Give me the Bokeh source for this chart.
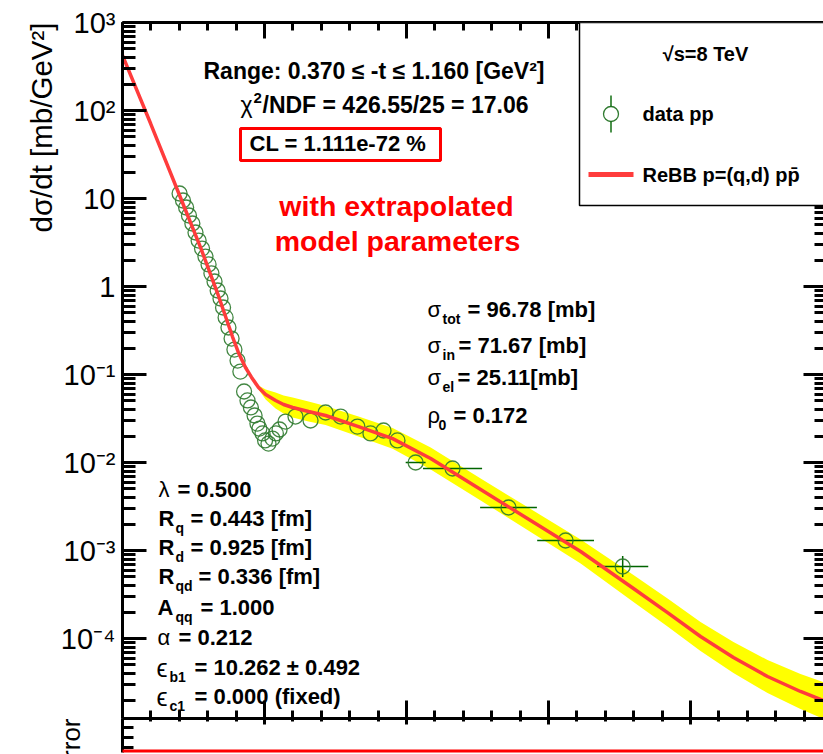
import math
from bokeh.plotting import figure
from bokeh.layouts import column
from bokeh.models import (LinearAxis, LogAxis, FixedTicker, SingleIntervalTicker, Title,
                          Range1d, Label, BoxAnnotation, ColumnDataSource, CustomJSTickFormatter)
from bokeh.embed import file_html
from bokeh.resources import INLINE

# ---------------- data ----------------
t_data = [0.201, 0.213, 0.224, 0.234, 0.246, 0.257, 0.268, 0.280, 0.292, 0.303,
          0.313, 0.324, 0.335, 0.345, 0.354, 0.363, 0.373, 0.384, 0.394, 0.405,
          0.415, 0.428, 0.440, 0.452, 0.465, 0.475, 0.482, 0.493, 0.502, 0.514,
          0.528, 0.540, 0.553, 0.574, 0.609, 0.662, 0.715, 0.768, 0.827, 0.873,
          0.919, 0.968, 1.032, 1.162, 1.359, 1.560, 1.761]
dsdt_data = [11.4, 9.49, 7.90, 6.41, 5.20, 4.11, 3.33, 2.70, 2.19, 1.78,
             1.41, 1.14, 0.901, 0.731, 0.577, 0.445, 0.342, 0.256, 0.192, 0.144,
             0.108, 0.0641, 0.0507, 0.0422, 0.0342, 0.0277, 0.0243, 0.0214, 0.0178, 0.0164,
             0.0187, 0.0214, 0.0237, 0.0292, 0.0333, 0.0300, 0.0370, 0.0333, 0.0256, 0.0214,
             0.0231, 0.0178, 0.0100, 0.00855, 0.00308, 0.00130, 0.000658]
t_halfwidth = [0, 0, 0, 0, 0, 0, 0, 0, 0, 0,
               0, 0, 0, 0, 0, 0, 0, 0, 0, 0,
               0, 0, 0, 0, 0, 0, 0, 0, 0, 0,
               0, 0, 0, 0, 0, 0, 0, 0, 0, 0,
               0, 0, 0.035, 0.104, 0.100, 0.100, 0.090]
dsdt_err_lo = [0, 0, 0, 0, 0, 0, 0, 0, 0, 0,
               0, 0, 0, 0, 0, 0, 0, 0, 0, 0,
               0, 0, 0, 0, 0, 0, 0, 0, 0, 0,
               0, 0, 0, 0, 0, 0, 0, 0, 0, 0,
               0, 0, 0, 0, 0, 0, 0.000159]
dsdt_err_hi = [0, 0, 0, 0, 0, 0, 0, 0, 0, 0,
               0, 0, 0, 0, 0, 0, 0, 0, 0, 0,
               0, 0, 0, 0, 0, 0, 0, 0, 0, 0,
               0, 0, 0, 0, 0, 0, 0, 0, 0, 0,
               0, 0, 0, 0, 0, 0, 0.000208]

curve_t = [0.0, 0.099, 0.204, 0.275, 0.335, 0.387, 0.408, 0.433, 0.454, 0.479,
           0.504, 0.539, 0.567, 0.599, 0.655, 0.715, 0.831, 0.951, 1.085, 1.261,
           1.437, 1.613, 1.799, 1.919, 2.035, 2.151, 2.271, 2.387, 2.468]
curve_val = [422.0, 71.1, 10.26, 2.77, 0.832, 0.270, 0.178, 0.120, 0.0933, 0.0711,
             0.0593, 0.0507, 0.0456, 0.0422, 0.0380, 0.0342, 0.0256, 0.0187, 0.0111, 0.00493,
             0.00219, 0.000975, 0.000370, 0.000197, 0.0001054, 6.08e-5, 3.70e-5, 2.50e-5, 1.97e-5]

band_t = [0.479, 0.504, 0.539, 0.567, 0.599, 0.655, 0.715, 0.831, 0.951, 1.085,
          1.261, 1.437, 1.613, 1.799, 1.919, 2.035, 2.151, 2.271, 2.387, 2.468]
band_lo = [0.0675, 0.0520, 0.0411, 0.0361, 0.0324, 0.0292, 0.0267, 0.0197, 0.0143, 0.00832,
           0.00370, 0.00162, 0.000713, 0.000260, 0.000137, 7.21e-5, 4.06e-5, 2.40e-5, 1.58e-5, 1.22e-5]
band_hi = [0.0750, 0.0676, 0.0625, 0.0577, 0.0548, 0.0494, 0.0439, 0.0333, 0.0247, 0.0148,
           0.00658, 0.00296, 0.00133, 0.000526, 0.000284, 0.000154, 9.12e-5, 5.69e-5, 3.95e-5, 3.20e-5]

y_tick_values = [1e-4, 1e-3, 1e-2, 1e-1, 1.0, 10.0, 100.0, 1000.0]
y_tick_labels = ["10\u207b\u2074", "10\u207b\u00b3", "10\u207b\u00b2", "10\u207b\u00b9",
                 "1", "10", "10\u00b2", "10\u00b3"]
y_minor_ticks = [m * 10.0 ** e for e in range(-5, 3) for m in range(2, 10)]

# ---------------- layout constants ----------------
W = 823
FL, FT, FB = 122, 22, 718
H1 = 718
H2 = 36
FONT = "Liberation Sans"
GREEN = "#2f7a2f"
RED = "#ff3c3c"

p = figure(width=W, height=H1, x_range=Range1d(0, 2.468), y_range=Range1d(1.233e-5, 1e3),
           y_axis_type="log", output_backend="svg", toolbar_location=None,
           min_border_left=FL, min_border_top=FT, min_border_right=0, min_border_bottom=0,
           outline_line_color=None, background_fill_color="white", border_fill_color="white")
p.grid.visible = False

def style_axis(ax, tin, tmin, line=True, labels=False):
    ax.major_tick_in = tin
    ax.major_tick_out = 0
    ax.minor_tick_in = tmin
    ax.minor_tick_out = 0
    ax.major_tick_line_width = 3
    ax.minor_tick_line_width = 3
    ax.axis_line_width = 3
    if not line:
        ax.axis_line_color = None
    if not labels:
        ax.formatter = CustomJSTickFormatter(code="return '';")
        ax.major_label_text_font_size = "1px"
        ax.major_label_standoff = 0

def side_title(fig, text, size, standoff=0):
    fig.add_layout(Title(text=text, align="right", text_font=FONT, text_font_size=f"{size}px",
                         text_font_style="normal", text_color="black", standoff=standoff,
                         offset=0),
                   "left")

ya = p.yaxis[0]
ya.ticker = FixedTicker(ticks=y_tick_values, minor_ticks=y_minor_ticks)
ya.major_label_overrides = dict(zip(y_tick_values, y_tick_labels))
style_axis(ya, 24, 13, labels=True)
ya.major_label_text_font = FONT
ya.major_label_text_font_size = "29px"
ya.major_label_text_font_style = "normal"
ya.major_label_text_color = "black"
ya.major_label_standoff = 7
side_title(p, "d\u03c3/dt [mb/GeV\u00b2]", 29.5)

xa = p.xaxis[0]
xa.ticker = SingleIntervalTicker(interval=0.5, num_minor_ticks=5)
style_axis(xa, 18, 8)

top = LinearAxis(ticker=SingleIntervalTicker(interval=0.5, num_minor_ticks=5))
style_axis(top, 16, 8)
p.add_layout(top, "above")

right = LogAxis(ticker=FixedTicker(ticks=y_tick_values, minor_ticks=y_minor_ticks))
style_axis(right, 20, 9, line=False)
p.add_layout(right, "right")

# ---------------- glyphs ----------------
p.varea(x=band_t, y1=band_lo, y2=band_hi, fill_color="#ffff00")

err = ColumnDataSource(dict(
    t=t_data, v=dsdt_data,
    t0=[t - h for t, h in zip(t_data, t_halfwidth)],
    t1=[t + h for t, h in zip(t_data, t_halfwidth)],
    v0=[v - e for v, e in zip(dsdt_data, dsdt_err_lo)],
    v1=[v + e for v, e in zip(dsdt_data, dsdt_err_hi)],
))
p.segment(x0="t0", y0="v", x1="t1", y1="v", source=err, line_color="#006400", line_width=1.5)
p.segment(x0="t", y0="v0", x1="t", y1="v1", source=err, line_color="#006400", line_width=1.5)
p.scatter(x="t", y="v", source=err, marker="circle", size=15, fill_color=None,
          line_color=GREEN, line_width=1.3, line_alpha=0.9)
p.line(curve_t, curve_val, line_color=RED, line_width=3.5)

# ---------------- texts ----------------
def lab(fig, X, Y, text, size, style="bold", color="black", align="left", fb=FB):
    fig.add_layout(Label(x=X - FL, y=fb - Y, x_units="screen", y_units="screen", text=text,
                         text_font=FONT, text_font_size=f"{size}px", text_font_style=style,
                         text_color=color, text_align=align, text_baseline="middle"))

def box(fig, X0, X1, Y0, Y1, fb=FB, **kw):
    fig.add_layout(BoxAnnotation(left=X0 - FL, right=X1 - FL, top=fb - Y0, bottom=fb - Y1,
                                 left_units="screen", right_units="screen",
                                 top_units="screen", bottom_units="screen", **kw))

lab(p, 203, 70, "Range: 0.370 \u2264 -t \u2264 1.160 [GeV\u00b2]", 23)
lab(p, 240, 104, "\u03c7", 23, style="normal")
lab(p, 253, 97, "2", 15)
lab(p, 262, 104, "/NDF = 426.55/25 = 17.06", 23)
box(p, 240, 440, 128, 160, fill_alpha=0, line_color="#ff0000", line_alpha=1, line_width=3)
lab(p, 249, 143, "CL = 1.111e-72 %", 22)
lab(p, 396, 205, "with extrapolated", 28.5, color="#ff0000", align="center")
lab(p, 397, 240, "model parameters", 28.5, color="#ff0000", align="center")

# cross sections block
lab(p, 427, 309, "\u03c3", 22, style="normal")
lab(p, 442, 318, "tot", 14)
lab(p, 467, 309, "= 96.78 [mb]", 22)
lab(p, 427, 345, "\u03c3", 22, style="normal")
lab(p, 442, 354, "in", 14)
lab(p, 458, 345, "= 71.67 [mb]", 22)
lab(p, 427, 377, "\u03c3", 22, style="normal")
lab(p, 442, 386, "el", 14)
lab(p, 457, 377, "= 25.11[mb]", 22)
lab(p, 427, 415, "\u03c1", 22, style="normal")
lab(p, 438, 424, "0", 14)
lab(p, 453, 415, "= 0.172", 22)

# parameter block
lab(p, 158, 489, "\u03bb", 22, style="normal")
lab(p, 177, 489, "= 0.500", 22)
lab(p, 158, 518, "R", 22)
lab(p, 175, 527, "q", 14)
lab(p, 190, 518, "= 0.443 [fm]", 22)
lab(p, 158, 547, "R", 22)
lab(p, 175, 556, "d", 14)
lab(p, 190, 547, "= 0.925 [fm]", 22)
lab(p, 158, 576, "R", 22)
lab(p, 175, 585, "qd", 14)
lab(p, 198, 576, "= 0.336 [fm]", 22)
lab(p, 157, 607, "A", 22)
lab(p, 175, 616, "qq", 14)
lab(p, 200, 607, "= 1.000", 22)
lab(p, 157, 637, "\u03b1", 22, style="normal")
lab(p, 178, 637, "= 0.212", 22)
lab(p, 156, 667, "\u03f5", 25, style="normal")
lab(p, 169, 676, "b1", 14)
lab(p, 194, 667, "= 10.262 \u00b1 0.492", 22)
lab(p, 156, 696, "\u03f5", 25, style="normal")
lab(p, 169, 705, "c1", 14)
lab(p, 194, 696, "= 0.000 (fixed)", 22)

# legend box
box(p, 579, 900, 22, 205, fill_color="white", fill_alpha=1, line_color="black",
    line_alpha=1, line_width=1.5)
lab(p, 705, 53, "\u221as=8 TeV", 20, align="center")
box(p, 603, 618, 106, 121, fill_alpha=0, line_color=GREEN, line_alpha=1, line_width=1.3,
    border_radius=8)
box(p, 609.8, 611.2, 95, 106, fill_color="#006400", fill_alpha=1, line_color=None)
box(p, 609.8, 611.2, 121, 132, fill_color="#006400", fill_alpha=1, line_color=None)
lab(p, 642, 113, "data pp", 20)
box(p, 588, 633, 171.5, 176.5, fill_color=RED, fill_alpha=1, line_color=None)
lab(p, 642, 174, "ReBB p=(q,d) pp\u0304", 20)

# ---------------- lower pad (partially visible) ----------------
p2 = figure(width=W, height=H2, x_range=p.x_range, y_range=Range1d(-0.5, 2.9),
            output_backend="svg", toolbar_location=None, x_axis_location="above",
            min_border_left=FL, min_border_top=0, min_border_right=0, min_border_bottom=2,
            outline_line_color=None, background_fill_color="white", border_fill_color="white")
p2.grid.visible = False
xa2 = p2.xaxis[0]
xa2.ticker = SingleIntervalTicker(interval=0.5, num_minor_ticks=5)
style_axis(xa2, 6, 3)
ya2 = p2.yaxis[0]
ya2.ticker = FixedTicker(ticks=[0, 1, 2], minor_ticks=[])
style_axis(ya2, 11, 0)
side_title(p2, "Error", 26, standoff=74)

# red slide line along the bottom edge
p2.add_layout(BoxAnnotation(left=-FL, right=W, bottom=-2, top=3,
                            left_units="screen", right_units="screen",
                            top_units="screen", bottom_units="screen",
                            fill_color="#ff0000", fill_alpha=1, line_color=None))

layout = column(p, p2, spacing=0)
open("out.html", "w").write(file_html(layout, INLINE))
